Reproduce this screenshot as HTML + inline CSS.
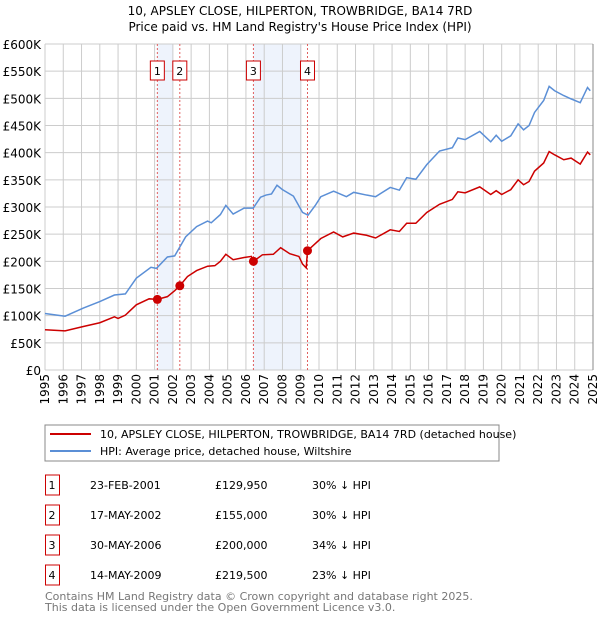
<!DOCTYPE html>
<html><head><meta charset="utf-8"><style>
body{margin:0;background:#fff;font-family:"DejaVu Sans","Liberation Sans",sans-serif;}
svg text{font-family:"DejaVu Sans","Liberation Sans",sans-serif;}
</style></head><body>
<svg id="c" width="600" height="620" xmlns="http://www.w3.org/2000/svg">
<text x="300" y="15" text-anchor="middle" font-size="12">10, APSLEY CLOSE, HILPERTON, TROWBRIDGE, BA14 7RD</text>
<text x="300" y="31" text-anchor="middle" font-size="12">Price paid vs. HM Land Registry's House Price Index (HPI)</text>
<g id="plot"></g>
<g>
<rect x="45" y="425" width="454" height="36" fill="#fff" stroke="#888"/>
<line x1="50" y1="434" x2="91" y2="434" stroke="#cc0000" stroke-width="2"/>
<text x="100" y="438" font-size="11">10, APSLEY CLOSE, HILPERTON, TROWBRIDGE, BA14 7RD (detached house)</text>
<line x1="50" y1="451" x2="91" y2="451" stroke="#5b8fd6" stroke-width="2"/>
<text x="100" y="455" font-size="11">HPI: Average price, detached house, Wiltshire</text>
</g>
<g id="tbl"></g>
<text x="45" y="600" font-size="11" fill="#777">Contains HM Land Registry data © Crown copyright and database right 2025.</text>
<text x="45" y="611" font-size="11" fill="#777">This data is licensed under the Open Government Licence v3.0.</text>
</svg>
<script>
const hpiYears=[1995,1996.1,1997.1,1998,1998.8,1999.4,2000,2000.8,2001.1,2001.7,2002.1,2002.7,2003.3,2003.9,2004.1,2004.6,2004.9,2005.3,2005.9,2006.4,2006.8,2007.1,2007.4,2007.7,2008,2008.6,2009.1,2009.4,2009.8,2010.1,2010.8,2011.5,2011.9,2012.6,2013.1,2013.9,2014.4,2014.8,2015.3,2015.9,2016.6,2017.3,2017.6,2018,2018.8,2019.4,2019.7,2020,2020.5,2020.9,2021.2,2021.5,2021.8,2022.3,2022.6,2022.9,2023.4,2023.8,2024.3,2024.7,2024.85];
const hpiValues=[104,99,114,126,138,140,169,189,187,208,210,245,264,274,271,286,303,287,298,298,318,322,324,340,332,320,290,285,303,319,329,319,327,322,319,336,331,354,351,378,403,409,427,424,439,420,432,421,431,453,442,450,474,496,522,514,505,499,492,520,514];
const propYears=[1995,1996.1,1997.1,1998,1998.8,1999,1999.4,2000,2000.7,2001.15,2001.7,2002.1,2002.38,2002.8,2003.3,2003.9,2004.3,2004.6,2004.9,2005.3,2005.9,2006.3,2006.41,2006.9,2007.5,2007.9,2008.4,2008.9,2009.1,2009.3,2009.37,2010.1,2010.8,2011.3,2011.9,2012.6,2013.1,2013.9,2014.4,2014.8,2015.3,2015.9,2016.6,2017.3,2017.6,2018,2018.8,2019.4,2019.7,2020,2020.5,2020.9,2021.2,2021.5,2021.8,2022.3,2022.6,2022.9,2023.4,2023.8,2024.3,2024.7,2024.85];
const propValues=[74,72,80,87,98,95,101,120,131,129.95,135,146,155,172,183,191,192,200,213,203,207,209,200,212,213,225,214,209,195,188,219.5,242,254,245,252,248,243,258,255,270,270,290,305,314,328,326,337,323,330,323,332,350,341,347,366,381,402,396,387,390,379,401,396];
const saleYears=[2001.15,2002.38,2006.41,2009.37];
const salePrices=[129.95,155,200,219.5];
const saleLabels=["1","2","3","4"];
const saleDates=["23-FEB-2001","17-MAY-2002","30-MAY-2006","14-MAY-2009"];
const salePriceText=["£129,950","£155,000","£200,000","£219,500"];
const saleDiffs=["30% ↓ HPI","30% ↓ HPI","34% ↓ HPI","23% ↓ HPI"];
const shadeRanges=[[2001.15,2002.0],[2006.41,2009.05]];
const yTicks=[0,50,100,150,200,250,300,350,400,450,500,550,600];
const yTickLabels=["£0","£50K","£100K","£150K","£200K","£250K","£300K","£350K","£400K","£450K","£500K","£550K","£600K"];
const xTicks=[1995,1996,1997,1998,1999,2000,2001,2002,2003,2004,2005,2006,2007,2008,2009,2010,2011,2012,2013,2014,2015,2016,2017,2018,2019,2020,2021,2022,2023,2024,2025];

const NS="http://www.w3.org/2000/svg";
const L=45,R=593,T=44,B=370;
const xs=y=>L+(y-1995)/30*(R-L);
const ys=v=>B-v/600*(B-T);
const plot=document.getElementById('plot');
function mk(tag,at,parent){const e=document.createElementNS(NS,tag);for(const k in at)e.setAttribute(k,at[k]);(parent||plot).appendChild(e);return e;}

shadeRanges.forEach(r=>{
  const e=mk('rect',{x:xs(r[0]),y:T,width:xs(r[1])-xs(r[0]),height:B-T,fill:'#eef3fc'});
  
  
});
yTicks.forEach((t,i)=>{
  const g=mk('line',{x1:L,x2:R,y1:ys(t),y2:ys(t),stroke:'#ccc','stroke-width':1});
  
  
  const tx=mk('text',{x:L-4,y:ys(t)+5,'text-anchor':'end','font-size':12});
  tx.textContent=yTickLabels[i];
  
  
});
xTicks.forEach(t=>{
  const g=mk('line',{x1:xs(t),x2:xs(t),y1:T,y2:B,stroke:'#ccc','stroke-width':1});
  
  
  const tx=mk('text',{x:0,y:0,'text-anchor':'end','font-size':12,transform:`translate(${xs(t)+4},${B+4}) rotate(-90)`});
  tx.textContent=String(t);
  
  
});
mk('line',{x1:R,x2:R,y1:T,y2:B,stroke:'#888'});
saleYears.forEach((y,i)=>{
  const l=mk('line',{x1:xs(y),x2:xs(y),y1:T,y2:B,stroke:'#e06060','stroke-dasharray':'2,2','stroke-width':1});
  
  
  const b=mk('rect',{x:xs(y)-7,y:61,width:14,height:19,fill:'#fff',stroke:'#cc0000'});
  
  
  const t=mk('text',{x:xs(y),y:75,'text-anchor':'middle','font-size':11});
  t.textContent=saleLabels[i];
  
  
});
const hp=mk('polyline',{points:hpiYears.map((y,i)=>xs(y)+','+ys(hpiValues[i])).join(' '),fill:'none',stroke:'#5b8fd6','stroke-width':1.5});


const pp=mk('polyline',{points:propYears.map((y,i)=>xs(y)+','+ys(propValues[i])).join(' '),fill:'none',stroke:'#cc0000','stroke-width':1.5});


saleYears.forEach((y,i)=>{
  const c=mk('circle',{cx:xs(y),cy:ys(salePrices[i]),r:4.5,fill:'#cc0000'});
  
  
});
const tbl=document.getElementById('tbl');
saleLabels.forEach((s,i)=>{
  const y0=475+i*30;
  const b=mk('rect',{x:45.5,y:y0,width:14,height:20,fill:'#fff',stroke:'#cc0000'},tbl);
  
  
  const cols=[[52,s,'middle'],[90,saleDates[i],'start'],[215,salePriceText[i],'start'],[312,saleDiffs[i],'start']];
  cols.forEach(c=>{
    const t=mk('text',{x:c[0],y:y0+14,'text-anchor':c[2],'font-size':11},tbl);
    t.textContent=c[1];
    
    
  });
});
</script>
</body></html>
